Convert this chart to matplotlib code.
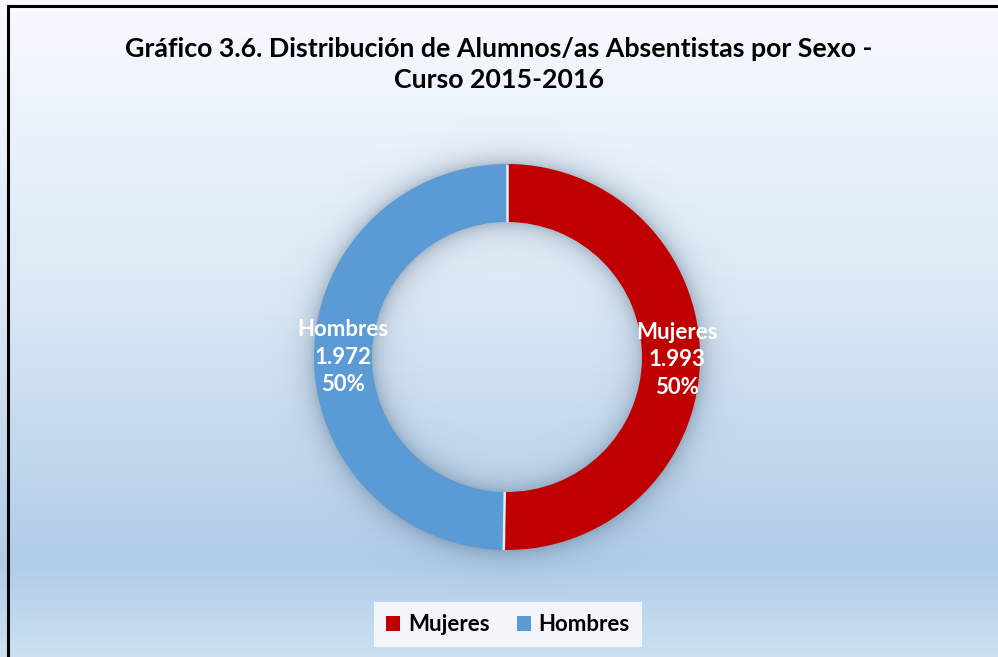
import matplotlib
matplotlib.use('Agg')
import matplotlib.pyplot as plt
import numpy as np
from matplotlib.patches import Patch
from matplotlib.colors import LinearSegmentedColormap

plt.rcParams['font.family'] = ['Lato', 'DejaVu Sans']

# datos
categorias = ['Mujeres', 'Hombres']
valores = [1993, 1972]
porcentajes = ['50%', '50%']
colores = ['#c00000', '#5b9bd5']
titulo = 'Gráfico 3.6. Distribución de Alumnos/as Absentistas por Sexo -\nCurso 2015-2016'

W, H = 998, 657
fig = plt.figure(figsize=(W / 100, H / 100), dpi=100)

# fondo degradado
bg = fig.add_axes([0, 0, 1, 1])
bg.set_axis_off()
cmap = LinearSegmentedColormap.from_list('fondo', [
    (0.0, (0.97, 0.98, 1.0)),
    (0.45, (0.86, 0.91, 0.96)),
    (0.86, (0.69, 0.80, 0.91)),
    (1.0, (0.80, 0.88, 0.95)),
])
grad = np.linspace(0, 1, H).reshape(-1, 1)
bg.imshow(grad, cmap=cmap, aspect='auto', extent=[0, W, H, 0])

# sombra suave del anillo
cx, cy, r_out, r_in = 507, 357, 193, 135
yy, xx = np.mgrid[0:H, 0:W]
d = np.hypot(xx - cx, yy - cy)
dist = np.where(d > r_out, d - r_out, np.where(d < r_in, r_in - d, 0))
alpha = 0.33 * np.exp(-dist / 11.0)
alpha[(d >= r_out - 1) & (d <= r_in + 1)] = 0
sombra = np.zeros((H, W, 4))
sombra[..., 0] = 0.25
sombra[..., 1] = 0.35
sombra[..., 2] = 0.45
sombra[..., 3] = alpha
bg.imshow(sombra, extent=[0, W, H, 0], aspect='auto')
bg.set_xlim(0, W)
bg.set_ylim(H, 0)

# marco
bg.plot([8, 8], [H, 6], color='black', lw=2.2, solid_capstyle='projecting')
bg.plot([8, W + 5], [6, 6], color='black', lw=2.2, solid_capstyle='projecting')

# anillo
ax = fig.add_axes([(cx - r_out) / W, (H - cy - r_out) / H, 2 * r_out / W, 2 * r_out / H])
ancho = 1 - r_in / r_out
wedges, _ = ax.pie(valores, colors=colores, startangle=90, counterclock=False,
                   radius=1, wedgeprops=dict(width=ancho, edgecolor='none', linewidth=0))
# separacion entre sectores
for w in wedges:
    ang = np.deg2rad(w.theta1)
    ax.plot([(1 - ancho) * np.cos(ang), np.cos(ang)], [(1 - ancho) * np.sin(ang), np.sin(ang)],
            color='#e3ebf4', lw=1.8, solid_capstyle='butt')
ax.set_xlim(-1, 1)
ax.set_ylim(-1, 1)
ax.set_aspect('equal')
ax.set_axis_off()

etiquetas = [f'{c}\n{v:,}'.replace(',', '.') + f'\n{p}' for c, v, p in zip(categorias, valores, porcentajes)]
ax.text(0.88, -0.015, etiquetas[0], ha='center', va='center', color='white',
        fontsize=16, fontweight='bold', linespacing=1.38)
ax.text(-0.85, 0.0, etiquetas[1], ha='center', va='center', color='white',
        fontsize=16, fontweight='bold', linespacing=1.38)

# titulo
fig.text(0.5, 1 - 64.5 / H, titulo, ha='center', va='center', fontsize=19.3,
         fontweight='bold', color='black', linespacing=1.37)

# leyenda
handles = [Patch(facecolor=c, label=l) for c, l in zip(colores, categorias)]
leg = fig.legend(handles=handles, loc='center', bbox_to_anchor=(508 / W, 1 - 624.5 / H),
                 ncol=2, frameon=True, fancybox=False, handlelength=0.65, handleheight=0.65,
                 handletextpad=0.35, columnspacing=1.2, borderpad=0.55, borderaxespad=0,
                 prop={'weight': 'bold', 'size': 16})
leg.get_frame().set_facecolor('#f2f6fb')
leg.get_frame().set_edgecolor('none')
leg.get_frame().set_alpha(1)

fig.savefig('out.png', dpi=100)
